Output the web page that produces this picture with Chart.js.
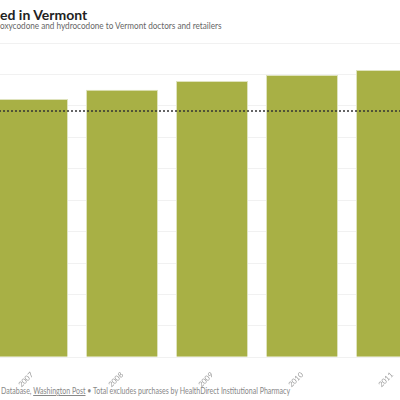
<!DOCTYPE html>
<html lang="en">
<head>
  <meta charset="UTF-8">
  <title>Vermont</title>
  <script src="https://cdn.jsdelivr.net/npm/chart.js"></script>
  <style>
    html, body { margin: 0; padding: 0; width: 400px; height: 400px; overflow: hidden; background: #fff; }
    body { position: relative; font-family: Lato, "Open Sans", sans-serif; }
    .title { position: absolute; left: 0; top: 6px; font-size: 14px; font-weight: bold; color: #222; white-space: nowrap; }
    .sub { position: absolute; left: 0; top: 20px; font-size: 9.5px; color: #666; white-space: nowrap; transform: scaleX(0.86); transform-origin: left; }
    .foot { position: absolute; left: 1px; top: 385px; font-size: 9px; color: #888; white-space: nowrap; transform: scaleX(0.78); transform-origin: left; }
    .foot u { color: #888; }
    #wrap { position: absolute; left: -13px; top: 43px; width: 450px; height: 351px; }
  </style>
</head>
<body>
  <div class="title">ed in Vermont</div>
  <div class="sub">oxycodone and hydrocodone to Vermont doctors and retailers</div>
  <div class="foot">Database, <u>Washington Post</u> &bull; Total excludes purchases by HealthDirect Institutional Pharmacy</div>
  <div id="wrap"><canvas id="chart"></canvas></div>

  <script>
    // anni visibili e valori
    const years = ['2007', '2008', '2009', '2010', '2011'];
    const pills = [8.22, 8.51, 8.79, 8.98, 9.14];
    const average = 7.84;

    // linea tratteggiata della media, su tutta la larghezza
    const avgLine = {
      id: 'avgLine',
      afterDatasetsDraw(chart) {
        const ctx = chart.ctx;
        const area = chart.chartArea;
        const y = chart.scales.y.getPixelForValue(average);
        ctx.save();
        ctx.strokeStyle = '#333';
        ctx.lineWidth = 1.5;
        ctx.setLineDash([2, 2]);
        ctx.beginPath();
        ctx.moveTo(area.left, y);
        ctx.lineTo(area.right, y);
        ctx.stroke();
        ctx.restore();
      }
    };

    new Chart(document.getElementById('chart'), {
      type: 'bar',
      data: {
        labels: years,
        datasets: [{
          data: pills,
          backgroundColor: '#a8b045',
          borderColor: '#dfe3bd',
          borderWidth: 1,
          barPercentage: 0.8,
          categoryPercentage: 1
        }]
      },
      options: {
        responsive: true,
        maintainAspectRatio: false,
        animation: false,
        layout: { padding: 0 },
        plugins: { legend: { display: false }, tooltip: { enabled: false } },
        scales: {
          x: {
            grid: { display: false },
            border: { display: false },
            ticks: { color: '#999', font: { family: 'Lato', size: 7.5 }, minRotation: 45, maxRotation: 45, padding: 5 }
          },
          y: {
            min: 0,
            max: 10,
            ticks: { display: false, stepSize: 1 },
            border: { display: false },
            grid: { color: '#f1f1f1', drawTicks: false }
          }
        }
      },
      plugins: [avgLine]
    });
  </script>
</body>
</html>
